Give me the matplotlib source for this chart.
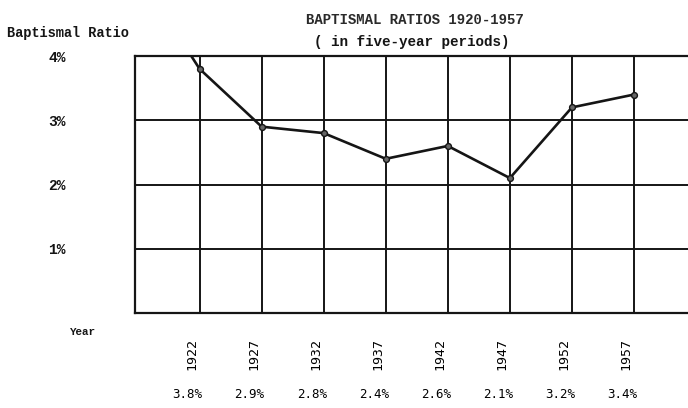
import matplotlib
matplotlib.use("Agg")
import matplotlib.pyplot as plt
from matplotlib.transforms import ScaledTranslation

# Five-year periods and baptismal ratios (percent); the 1917 value runs off the top of the grid
years = [1917, 1922, 1927, 1932, 1937, 1942, 1947, 1952, 1957]
ratios = [5.3, 3.8, 2.9, 2.8, 2.4, 2.6, 2.1, 3.2, 3.4]
period_years = years[1:]
period_ratios = ratios[1:]
y_ticks = [1, 2, 3, 4]
y_tick_labels = ["1%", "2%", "3%", "4%"]

INK = "#151515"
HEAD_FONT = "Liberation Mono"
TYPE_FONT = "DejaVu Sans Mono"

W, H = 688, 408
fig = plt.figure(figsize=(W / 100, H / 100), dpi=100)
fig.patch.set_facecolor("white")

ax = fig.add_axes([135 / W, 95 / H, (W - 135) / W, 257 / H])
ax.set_xlim(1916.8, 1961.35)
ax.set_ylim(0, 4)
ax.set_axisbelow(True)

ax.plot(years, ratios, color=INK, lw=1.9, marker="o", ms=4.2,
        mfc="#666666", mec=INK, mew=1.0, solid_joinstyle="round", zorder=3)

# grid
ax.set_xticks(period_years)
ax.set_yticks(y_ticks)
ax.grid(True, color=INK, lw=1.4)
for side in ("left", "top", "bottom"):
    ax.spines[side].set_linewidth(1.6)
    ax.spines[side].set_color(INK)
ax.spines["right"].set_visible(False)

# axis labels
ax.set_xticklabels([str(y) for y in period_years], rotation=90,
                   family=TYPE_FONT, fontsize=9.5, color="#000000")
ax.set_yticklabels(y_tick_labels, family=HEAD_FONT, fontweight="bold",
                   fontsize=10.5, color=INK)
ax.tick_params(axis="x", length=0, pad=18)
ax.tick_params(axis="y", length=0, pad=50)
shift = ScaledTranslation(-8 / 100, 0, fig.dpi_scale_trans)
for lab in ax.get_xticklabels():
    lab.set_transform(lab.get_transform() + shift)

# value row under the years
for yr, val in zip(period_years, period_ratios):
    ax.annotate(f"{val:.1f}%", xy=(yr, 0), xycoords=("data", "axes fraction"),
                xytext=(-12 * 0.72, -(395 - 313) * 0.72), textcoords="offset points",
                ha="center", va="center", family=TYPE_FONT, fontsize=9, color="#000000")

# headings
fig.text(7 / W, 1 - 33 / H, "Baptismal Ratio", family=HEAD_FONT, fontweight="bold",
         fontsize=9.8, color=INK, ha="left", va="center")
fig.text(415 / W, 1 - 20 / H, "BAPTISMAL RATIOS 1920-1957", family=HEAD_FONT,
         fontweight="bold", fontsize=10.1, color="#2a2a2a", ha="center", va="center")
fig.text(412 / W, 1 - 42 / H, "( in five-year periods)", family=HEAD_FONT,
         fontweight="bold", fontsize=10.3, color=INK, ha="center", va="center")
fig.text(83 / W, 1 - 332 / H, "Year", family=HEAD_FONT, fontweight="bold",
         fontsize=7.8, color=INK, ha="center", va="center")

fig.savefig("out.png", dpi=100, facecolor="white")
